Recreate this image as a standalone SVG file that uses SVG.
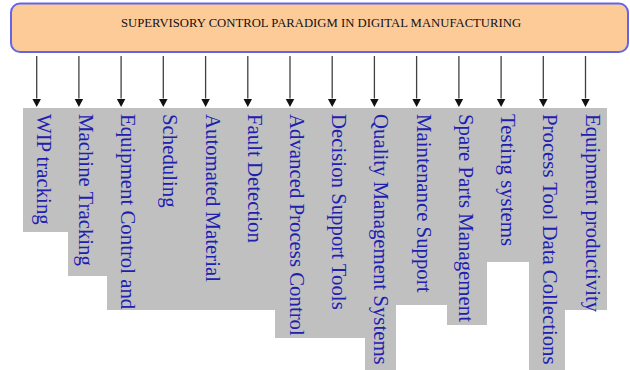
<svg xmlns="http://www.w3.org/2000/svg" width="630" height="370" viewBox="0 0 630 370">
<style>
.title{font-family:"Liberation Serif","Times New Roman",serif;font-size:12.7px;fill:#111;}
.lbl{font-family:"Liberation Serif","Times New Roman",serif;font-size:20.8px;fill:#2020b0;}
.conn line{stroke:#404040;stroke-width:1.3;marker-end:url(#ah);}
</style>
<defs>
<marker id="ah" markerWidth="10" markerHeight="10" refX="0" refY="0" viewBox="0 -5 10 10" markerUnits="userSpaceOnUse" orient="auto">
<path d="M0,-4.5 L8.5,0 L0,4.5 Z" fill="#111"/>
</marker>
</defs>
<rect width="630" height="370" fill="#ffffff"/>
<g id="title-node">
<rect x="11" y="3.5" width="617" height="48.5" rx="9" ry="9" fill="#fdcb98" stroke="#6464ea" stroke-width="2"/>
<text class="title" x="321" y="27" text-anchor="middle">SUPERVISORY CONTROL PARADIGM IN DIGITAL MANUFACTURING</text>
</g>
<g id="panel">
<path d="M23,108 L607,108 L607,310 L565,310 L565,370 L529,370 L529,262 L487,262 L487,325 L447,325 L447,305 L396,305 L396,370 L365,370 L365,338 L275,338 L275,310 L107,310 L107,276 L68,276 L68,232 L23,232 Z" fill="#c0c0c0"/>
</g>
<g id="connectors" class="conn">
<line x1="36.7" y1="56" x2="36.7" y2="98.5"/>
<line x1="78.9" y1="56" x2="78.9" y2="98.5"/>
<line x1="121.1" y1="56" x2="121.1" y2="98.5"/>
<line x1="163.3" y1="56" x2="163.3" y2="98.5"/>
<line x1="205.6" y1="56" x2="205.6" y2="98.5"/>
<line x1="247.8" y1="56" x2="247.8" y2="98.5"/>
<line x1="290" y1="56" x2="290" y2="98.5"/>
<line x1="332.2" y1="56" x2="332.2" y2="98.5"/>
<line x1="374.4" y1="56" x2="374.4" y2="98.5"/>
<line x1="416.6" y1="56" x2="416.6" y2="98.5"/>
<line x1="458.9" y1="56" x2="458.9" y2="98.5"/>
<line x1="501.1" y1="56" x2="501.1" y2="98.5"/>
<line x1="543.3" y1="56" x2="543.3" y2="98.5"/>
<line x1="585.5" y1="56" x2="585.5" y2="98.5"/>
</g>
<g id="n1"><text class="lbl" transform="translate(36.7,114) rotate(90)">WIP tracking</text></g>
<g id="n2"><text class="lbl" transform="translate(78.9,114) rotate(90)">Machine Tracking</text></g>
<g id="n3"><text class="lbl" transform="translate(121.1,114) rotate(90)">Equipment Control and</text></g>
<g id="n4"><text class="lbl" transform="translate(163.3,114) rotate(90)">Scheduling</text></g>
<g id="n5"><text class="lbl" transform="translate(205.6,114) rotate(90)">Automated Material</text></g>
<g id="n6"><text class="lbl" transform="translate(247.8,114) rotate(90)">Fault Detection</text></g>
<g id="n7"><text class="lbl" transform="translate(290,114) rotate(90)">Advanced Process Control</text></g>
<g id="n8"><text class="lbl" transform="translate(332.2,114) rotate(90)">Decision Support Tools</text></g>
<g id="n9"><text class="lbl" transform="translate(374.4,114) rotate(90)">Quality Management Systems</text></g>
<g id="n10"><text class="lbl" transform="translate(416.6,114) rotate(90)">Maintenance Support</text></g>
<g id="n11"><text class="lbl" transform="translate(458.9,114) rotate(90)">Spare Parts Management</text></g>
<g id="n12"><text class="lbl" transform="translate(501.1,114) rotate(90)">Testing systems</text></g>
<g id="n13"><text class="lbl" transform="translate(543.3,114) rotate(90)">Process Tool Data Collections</text></g>
<g id="n14"><text class="lbl" transform="translate(585.5,114) rotate(90)">Equipment productivity</text></g>
</svg>
